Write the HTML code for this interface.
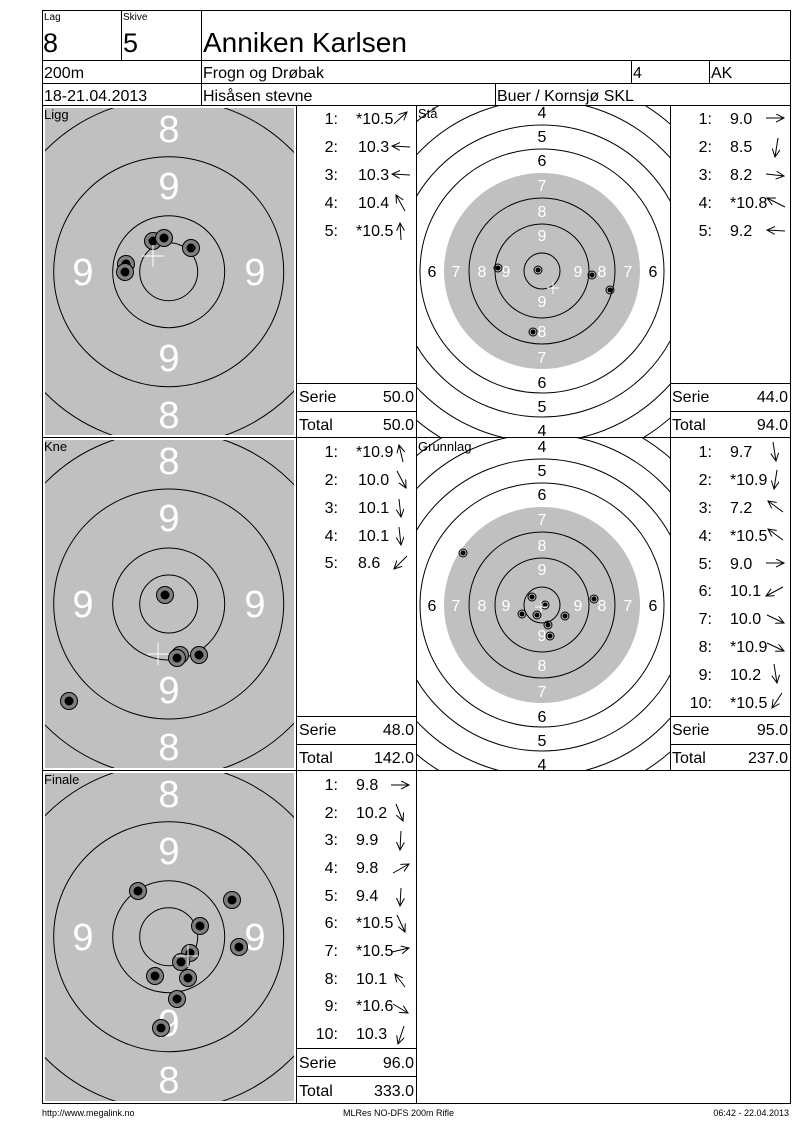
<!DOCTYPE html>
<html><head><meta charset="utf-8"><style>
html,body{margin:0;padding:0;background:#fff;}
svg{display:block;font-family:"Liberation Sans",Arial,sans-serif;}
</style></head><body>
<svg width="800" height="1130" viewBox="0 0 800 1130" xmlns="http://www.w3.org/2000/svg">
<defs>
<marker id="a" markerWidth="10" markerHeight="10" refX="8" refY="4" orient="auto" markerUnits="userSpaceOnUse"><path d="M0,0 L8,4 L0,8" fill="none" stroke="#000" stroke-width="1"/></marker>
<clipPath id="c1"><rect x="45" y="108" width="249" height="327"/></clipPath>
<clipPath id="c2"><rect x="45" y="440" width="249" height="328"/></clipPath>
<clipPath id="c3"><rect x="45" y="773" width="249" height="328"/></clipPath>
<clipPath id="c4"><rect x="417" y="106" width="253" height="331"/></clipPath>
<clipPath id="c5"><rect x="417" y="438" width="253" height="332"/></clipPath>
<g id="shot"><circle r="8.5" fill="#808080" stroke="#000" stroke-width="1"/><circle r="4.5" fill="#000"/></g>
<g id="ss"><circle r="4" fill="none" stroke="#000" stroke-width="1"/><circle r="2.5" fill="#000"/></g>
</defs>

<!-- header -->
<g fill="none" stroke="#000" stroke-width="1">
<rect x="42.5" y="10.5" width="748" height="1093"/>
<line x1="42" y1="60.5" x2="790" y2="60.5"/>
<line x1="42" y1="83.5" x2="790" y2="83.5"/>
<line x1="42" y1="105.5" x2="790" y2="105.5"/>
<line x1="121.5" y1="10" x2="121.5" y2="60"/>
<line x1="201.5" y1="10" x2="201.5" y2="105"/>
<line x1="631.5" y1="60" x2="631.5" y2="83"/>
<line x1="709.5" y1="60" x2="709.5" y2="83"/>
<line x1="495.5" y1="83" x2="495.5" y2="105"/>
<line x1="42" y1="437.5" x2="790" y2="437.5"/>
<line x1="42" y1="770.5" x2="790" y2="770.5"/>
<line x1="296.5" y1="105" x2="296.5" y2="1103"/>
<line x1="416.5" y1="105" x2="416.5" y2="1103"/>
<line x1="670.5" y1="105" x2="670.5" y2="770"/>
<line x1="296" y1="383.5" x2="416" y2="383.5"/>
<line x1="296" y1="411.5" x2="416" y2="411.5"/>
<line x1="670" y1="383.5" x2="790" y2="383.5"/>
<line x1="670" y1="411.5" x2="790" y2="411.5"/>
<line x1="296" y1="716.5" x2="416" y2="716.5"/>
<line x1="296" y1="744.5" x2="416" y2="744.5"/>
<line x1="670" y1="716.5" x2="790" y2="716.5"/>
<line x1="670" y1="744.5" x2="790" y2="744.5"/>
<line x1="296" y1="1048.5" x2="416" y2="1048.5"/>
<line x1="296" y1="1076.5" x2="416" y2="1076.5"/>
</g>
<g fill="#000">
<text x="44" y="20" font-size="10">Lag</text>
<text x="123" y="20" font-size="10">Skive</text>
<text x="43" y="52" font-size="27">8</text>
<text x="123" y="52" font-size="27">5</text>
<text x="203" y="52" font-size="28">Anniken Karlsen</text>
<text x="44" y="78" font-size="16">200m</text>
<text x="203" y="78" font-size="16">Frogn og Drøbak</text>
<text x="633" y="78" font-size="16">4</text>
<text x="711" y="78" font-size="16">AK</text>
<text x="44" y="101" font-size="16">18-21.04.2013</text>
<text x="203" y="101" font-size="16">Hisåsen stevne</text>
<text x="497" y="101" font-size="16">Buer / Kornsjø SKL</text>
</g>

<!-- Ligg target -->
<g clip-path="url(#c1)">
<rect x="45" y="108" width="249" height="327" fill="#c0c0c0"/>
<g fill="none" stroke="#000" stroke-width="1"><circle cx="168.7" cy="271.7" r="29"/><circle cx="168.7" cy="271.7" r="56"/><circle cx="168.7" cy="271.7" r="115"/><circle cx="168.7" cy="271.7" r="173"/></g>
<g fill="#fff" font-size="38" text-anchor="middle"><text x="169" y="142">8</text><text x="169" y="199">9</text><text x="83" y="285">9</text><text x="255" y="285">9</text><text x="169" y="371">9</text><text x="169" y="428">8</text></g>
<use href="#shot" x="153" y="241"/><use href="#shot" x="164" y="238"/><use href="#shot" x="191" y="248"/><use href="#shot" x="126" y="264"/><use href="#shot" x="125" y="272"/>
<g stroke="#fff" stroke-width="1"><line x1="142" y1="256" x2="164" y2="256"/><line x1="153" y1="245" x2="153" y2="267"/></g>
</g>
<text x="44" y="119" font-size="13">Ligg</text>

<!-- Kne target -->
<g clip-path="url(#c2)">
<rect x="45" y="440" width="249" height="328" fill="#c0c0c0"/>
<g fill="none" stroke="#000" stroke-width="1"><circle cx="168.7" cy="604" r="29"/><circle cx="168.7" cy="604" r="56"/><circle cx="168.7" cy="604" r="115"/><circle cx="168.7" cy="604" r="173"/></g>
<g fill="#fff" font-size="38" text-anchor="middle"><text x="169" y="474">8</text><text x="169" y="531">9</text><text x="83" y="617">9</text><text x="255" y="617">9</text><text x="169" y="703">9</text><text x="169" y="760">8</text></g>
<use href="#shot" x="165" y="595"/><use href="#shot" x="180" y="655"/><use href="#shot" x="177" y="658"/><use href="#shot" x="199" y="655"/><use href="#shot" x="69" y="701"/>
<g stroke="#fff" stroke-width="1"><line x1="147" y1="654" x2="169" y2="654"/><line x1="158" y1="643" x2="158" y2="665"/></g>
</g>
<text x="44" y="451" font-size="13">Kne</text>

<!-- Finale target -->
<g clip-path="url(#c3)">
<rect x="45" y="773" width="249" height="328" fill="#c0c0c0"/>
<g fill="none" stroke="#000" stroke-width="1"><circle cx="168.7" cy="936.7" r="29"/><circle cx="168.7" cy="936.7" r="56"/><circle cx="168.7" cy="936.7" r="115"/><circle cx="168.7" cy="936.7" r="173"/></g>
<g fill="#fff" font-size="38" text-anchor="middle"><text x="169" y="807">8</text><text x="169" y="864">9</text><text x="83" y="950">9</text><text x="255" y="950">9</text><text x="169" y="1036">9</text><text x="169" y="1093">8</text></g>
<use href="#shot" x="138" y="891"/><use href="#shot" x="232" y="900"/><use href="#shot" x="200" y="926"/><use href="#shot" x="239" y="947"/><use href="#shot" x="190" y="953"/><use href="#shot" x="181" y="962"/><use href="#shot" x="155" y="976"/><use href="#shot" x="188" y="978"/><use href="#shot" x="177" y="999"/><use href="#shot" x="161" y="1028"/>
<g stroke="#fff" stroke-width="1"><line x1="176" y1="956" x2="198" y2="956"/><line x1="188" y1="945" x2="188" y2="967"/></g>
</g>
<text x="44" y="784" font-size="13">Finale</text>

<!-- Stå target -->
<g clip-path="url(#c4)">
<circle cx="542" cy="271" r="98" fill="#c0c0c0"/>
<g fill="none" stroke="#000" stroke-width="1"><circle cx="542" cy="271" r="18"/><circle cx="542" cy="271" r="47"/><circle cx="542" cy="271" r="73"/><circle cx="542" cy="271" r="122"/><circle cx="542" cy="271" r="146"/><circle cx="542" cy="271" r="171"/><circle cx="542" cy="271" r="195"/><circle cx="542" cy="271" r="220"/></g>
<g font-size="16" text-anchor="middle">
<g fill="#fff"><text x="542" y="241">9</text><text x="542" y="307">9</text><text x="506" y="277">9</text><text x="578" y="277">9</text><text x="542" y="217">8</text><text x="542" y="337">8</text><text x="482" y="277">8</text><text x="602" y="277">8</text><text x="542" y="191">7</text><text x="542" y="363">7</text><text x="456" y="277">7</text><text x="628" y="277">7</text></g>
<g fill="#000"><text x="542" y="166">6</text><text x="542" y="388">6</text><text x="432" y="277">6</text><text x="653" y="277">6</text><text x="542" y="142">5</text><text x="542" y="412">5</text><text x="542" y="118">4</text><text x="542" y="436">4</text></g>
</g>
<use href="#ss" x="498" y="268"/><use href="#ss" x="538" y="270"/><use href="#ss" x="592" y="275"/><use href="#ss" x="610" y="290"/><use href="#ss" x="533" y="332"/>
<g stroke="#fff" stroke-width="1"><line x1="547" y1="288" x2="559" y2="288"/><line x1="553" y1="282" x2="553" y2="294"/></g>
</g>
<text x="418" y="118" font-size="13">Stå</text>

<!-- Grunnlag target -->
<g clip-path="url(#c5)">
<circle cx="542" cy="605" r="98" fill="#c0c0c0"/>
<g fill="none" stroke="#000" stroke-width="1"><circle cx="542" cy="605" r="18"/><circle cx="542" cy="605" r="47"/><circle cx="542" cy="605" r="73"/><circle cx="542" cy="605" r="122"/><circle cx="542" cy="605" r="146"/><circle cx="542" cy="605" r="171"/><circle cx="542" cy="605" r="195"/><circle cx="542" cy="605" r="220"/></g>
<g font-size="16" text-anchor="middle">
<g fill="#fff"><text x="542" y="575">9</text><text x="542" y="641">9</text><text x="506" y="611">9</text><text x="578" y="611">9</text><text x="542" y="551">8</text><text x="542" y="671">8</text><text x="482" y="611">8</text><text x="602" y="611">8</text><text x="542" y="525">7</text><text x="542" y="697">7</text><text x="456" y="611">7</text><text x="628" y="611">7</text></g>
<g fill="#000"><text x="542" y="500">6</text><text x="542" y="722">6</text><text x="432" y="611">6</text><text x="653" y="611">6</text><text x="542" y="476">5</text><text x="542" y="746">5</text><text x="542" y="452">4</text><text x="542" y="770">4</text></g>
</g>
<use href="#ss" x="463" y="553"/><use href="#ss" x="532" y="597"/><use href="#ss" x="545" y="605"/><use href="#ss" x="522" y="614"/><use href="#ss" x="537" y="615"/><use href="#ss" x="565" y="616"/><use href="#ss" x="548" y="625"/><use href="#ss" x="550" y="636"/><use href="#ss" x="594" y="599"/>
<g stroke="#fff" stroke-width="1"><line x1="535" y1="607" x2="547" y2="607"/><line x1="541" y1="601" x2="541" y2="613"/></g>
</g>
<text x="418" y="451" font-size="13">Grunnlag</text>

<!-- score texts -->
<g font-size="16" fill="#000">
<!-- Ligg -->
<g text-anchor="end"><text x="338" y="124">1:</text><text x="338" y="152">2:</text><text x="338" y="180">3:</text><text x="338" y="208">4:</text><text x="338" y="236">5:</text></g>
<text x="356" y="124">*10.5</text><text x="358" y="152">10.3</text><text x="358" y="180">10.3</text><text x="358" y="208">10.4</text><text x="356" y="236">*10.5</text>
<text x="299" y="402">Serie</text><text x="414" y="402" text-anchor="end">50.0</text>
<text x="299" y="430">Total</text><text x="414" y="430" text-anchor="end">50.0</text>
<!-- Stå -->
<g text-anchor="end"><text x="712" y="124">1:</text><text x="712" y="152">2:</text><text x="712" y="180">3:</text><text x="712" y="208">4:</text><text x="712" y="236">5:</text></g>
<text x="730" y="124">9.0</text><text x="730" y="152">8.5</text><text x="730" y="180">8.2</text><text x="730" y="208">*10.8</text><text x="730" y="236">9.2</text>
<text x="672" y="402">Serie</text><text x="788" y="402" text-anchor="end">44.0</text>
<text x="672" y="430">Total</text><text x="788" y="430" text-anchor="end">94.0</text>
<!-- Kne -->
<g text-anchor="end"><text x="338" y="457">1:</text><text x="338" y="485">2:</text><text x="338" y="513">3:</text><text x="338" y="541">4:</text><text x="338" y="568">5:</text></g>
<text x="356" y="457">*10.9</text><text x="358" y="485">10.0</text><text x="358" y="513">10.1</text><text x="358" y="541">10.1</text><text x="358" y="568">8.6</text>
<text x="299" y="735">Serie</text><text x="414" y="735" text-anchor="end">48.0</text>
<text x="299" y="763">Total</text><text x="414" y="763" text-anchor="end">142.0</text>
<!-- Grunnlag -->
<g text-anchor="end"><text x="712" y="457">1:</text><text x="712" y="485">2:</text><text x="712" y="513">3:</text><text x="712" y="541">4:</text><text x="712" y="569">5:</text><text x="712" y="596">6:</text><text x="712" y="624">7:</text><text x="712" y="652">8:</text><text x="712" y="680">9:</text><text x="712" y="708">10:</text></g>
<text x="730" y="457">9.7</text><text x="730" y="485">*10.9</text><text x="730" y="513">7.2</text><text x="730" y="541">*10.5</text><text x="730" y="569">9.0</text><text x="730" y="596">10.1</text><text x="730" y="624">10.0</text><text x="730" y="652">*10.9</text><text x="730" y="680">10.2</text><text x="730" y="708">*10.5</text>
<text x="672" y="735">Serie</text><text x="788" y="735" text-anchor="end">95.0</text>
<text x="672" y="763">Total</text><text x="788" y="763" text-anchor="end">237.0</text>
<!-- Finale -->
<g text-anchor="end"><text x="338" y="790">1:</text><text x="338" y="818">2:</text><text x="338" y="845">3:</text><text x="338" y="873">4:</text><text x="338" y="901">5:</text><text x="338" y="928">6:</text><text x="338" y="956">7:</text><text x="338" y="984">8:</text><text x="338" y="1011">9:</text><text x="338" y="1039">10:</text></g>
<text x="356" y="790">9.8</text><text x="356" y="818">10.2</text><text x="356" y="845">9.9</text><text x="356" y="873">9.8</text><text x="356" y="901">9.4</text><text x="356" y="928">*10.5</text><text x="356" y="956">*10.5</text><text x="356" y="984">10.1</text><text x="356" y="1011">*10.6</text><text x="356" y="1039">10.3</text>
<text x="299" y="1068">Serie</text><text x="414" y="1068" text-anchor="end">96.0</text>
<text x="299" y="1096">Total</text><text x="414" y="1096" text-anchor="end">333.0</text>
</g>

<!-- arrows -->
<g stroke="#000" stroke-width="1" fill="none" marker-end="url(#a)">
<!-- Ligg -->
<line x1="394" y1="124" x2="407" y2="112"/><line x1="410" y1="147" x2="392" y2="146"/><line x1="410" y1="175" x2="392" y2="174"/><line x1="405" y1="211" x2="396" y2="195"/><line x1="401" y1="240" x2="400" y2="223"/>
<!-- Stå -->
<line x1="766" y1="118" x2="784" y2="118"/><line x1="778" y1="138" x2="775" y2="157"/><line x1="766" y1="174" x2="784" y2="176"/><line x1="785" y1="207" x2="767" y2="198"/><line x1="785" y1="231" x2="767" y2="230"/>
<!-- Kne -->
<line x1="403" y1="462" x2="399" y2="445"/><line x1="397" y1="471" x2="406" y2="488"/><line x1="399" y1="499" x2="401" y2="517"/><line x1="399" y1="527" x2="401" y2="545"/><line x1="407" y1="556" x2="394" y2="569"/>
<!-- Grunnlag -->
<line x1="773" y1="442" x2="776" y2="461"/><line x1="777" y1="470" x2="774" y2="489"/><line x1="783" y1="512" x2="768" y2="501"/><line x1="783" y1="540" x2="768" y2="529"/><line x1="766" y1="563" x2="784" y2="563"/><line x1="783" y1="587" x2="766" y2="596"/><line x1="767" y1="615" x2="784" y2="623"/><line x1="767" y1="643" x2="784" y2="651"/><line x1="774" y1="664" x2="777" y2="683"/><line x1="782" y1="693" x2="772" y2="708"/>
<!-- Finale -->
<line x1="391" y1="785" x2="409" y2="785"/><line x1="396" y1="804" x2="403" y2="821"/><line x1="401" y1="831" x2="400" y2="850"/><line x1="393" y1="873" x2="409" y2="864"/><line x1="401" y1="888" x2="400" y2="906"/><line x1="397" y1="915" x2="405" y2="932"/><line x1="392" y1="952" x2="409" y2="948"/><line x1="405" y1="987" x2="395" y2="974"/><line x1="393" y1="1004" x2="408" y2="1013"/><line x1="404" y1="1026" x2="398" y2="1044"/>
</g>

<!-- footer -->
<g font-size="9" fill="#000">
<text x="42" y="1116">http://www.megalink.no</text>
<text x="343" y="1116">MLRes NO-DFS 200m Rifle</text>
<text x="789" y="1116" text-anchor="end">06:42 - 22.04.2013</text>
</g>
</svg>
</body></html>
